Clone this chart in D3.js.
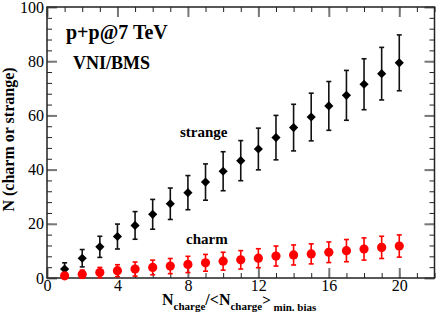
<!DOCTYPE html>
<html>
<head>
<meta charset="utf-8">
<script src="https://cdn.jsdelivr.net/npm/d3@7"></script>
<style>
  body { margin: 0; background: #fff; }
  svg { display: block; font-family: "Liberation Serif", "DejaVu Serif", serif; }
  .tick text { font-family: "Liberation Serif", serif !important; font-size: 16px; }
</style>
</head>
<body>
<div id="chart"></div>
<script>
// multiplicity bins
const nRatio = [1,2,3,4,5,6,7,8,9,10,11,12,13,14,15,16,17,18,19,20];
// strange yield + errors
const strange    = [3.3,7.3,11.5,15.3,19.4,23.5,27.4,31.5,35.4,39.4,43.3,47.6,51.8,55.5,59.4,63.5,67.4,71.5,75.4,79.4];
const strangeErr = [2.3,3.2,3.9,4.6,5.1,5.5,5.8,6.3,6.7,7.2,7.4,7.7,8.2,8.6,8.8,9.0,9.2,9.4,9.7,10.3];
// charm yield + errors
const charm    = [0.8,1.4,2.0,2.7,3.3,3.9,4.4,5.0,5.6,6.2,6.7,7.3,8.1,8.5,8.9,9.5,10.1,10.7,11.3,11.8];
const charmErr = [1.0,1.5,1.9,2.2,2.6,2.7,2.8,3.0,3.1,3.3,3.4,3.5,3.7,3.7,3.7,3.8,4.1,4.1,4.1,4.1];

const xTicks = [0,4,8,12,16,20];
const yTicks = [0,20,40,60,80,100];

const svgWidth = 436, svgHeight = 318;
const margin = { top: 7, right: 1.5, bottom: 40, left: 47 };
const width = svgWidth - margin.left - margin.right;
const height = svgHeight - margin.top - margin.bottom;

const svg = d3.select('#chart').append('svg')
  .attr('width', svgWidth)
  .attr('height', svgHeight)
  .append('g')
  .attr('transform', `translate(${margin.left},${margin.top})`);

const x = d3.scaleLinear().domain([0, 22]).range([0, width]);
const y = d3.scaleLinear().domain([0, 100]).range([height, 0]);

const minorX = d3.range(0, 23, 1);
const minorY = d3.range(0, 101, 4);

function styleAxis(g, major) {
  g.attr('font-family', null).attr('font-size', null);
  g.select('.domain').remove();
  g.selectAll('line').attr('stroke', major ? '#777' : '#222').attr('stroke-width', major ? 2 : 1);
  g.selectAll('text').attr('fill', '#000');
}

// minor ticks, all 4 sides
svg.append('g').attr('transform', `translate(0,${height})`)
  .call(d3.axisBottom(x).tickValues(minorX).tickSize(-5).tickFormat(''))
  .call(g => styleAxis(g, false));
svg.append('g')
  .call(d3.axisTop(x).tickValues(minorX).tickSize(-5).tickFormat(''))
  .call(g => styleAxis(g, false));
svg.append('g')
  .call(d3.axisLeft(y).tickValues(minorY).tickSize(-5).tickFormat(''))
  .call(g => styleAxis(g, false));
svg.append('g').attr('transform', `translate(${width},0)`)
  .call(d3.axisRight(y).tickValues(minorY).tickSize(-5).tickFormat(''))
  .call(g => styleAxis(g, false));

// major ticks
svg.append('g').attr('transform', `translate(0,${height})`)
  .call(d3.axisBottom(x).tickValues(xTicks).tickSize(-10).tickPadding(2))
  .call(g => styleAxis(g, true));
svg.append('g')
  .call(d3.axisTop(x).tickValues(xTicks).tickSize(-10).tickFormat(''))
  .call(g => styleAxis(g, true));
svg.append('g')
  .call(d3.axisLeft(y).tickValues(yTicks).tickSize(-10).tickPadding(3))
  .call(g => styleAxis(g, true));
svg.append('g').attr('transform', `translate(${width},0)`)
  .call(d3.axisRight(y).tickValues(yTicks).tickSize(-10).tickFormat(''))
  .call(g => styleAxis(g, true));

// frame
svg.append('rect')
  .attr('width', width).attr('height', height)
  .attr('fill', 'none').attr('stroke', '#222').attr('stroke-width', 1.5);

// error bars
function errBars(vals, errs, color, cls) {
  const g = svg.append('g').attr('class', cls).attr('stroke', color).attr('stroke-width', 1.6);
  g.selectAll('.bar').data(nRatio).enter().append('line')
    .attr('x1', d => x(d)).attr('x2', d => x(d))
    .attr('y1', (d, i) => y(vals[i] - errs[i]))
    .attr('y2', (d, i) => y(vals[i] + errs[i]));
  g.selectAll('.capT').data(nRatio).enter().append('line')
    .attr('x1', d => x(d) - 2.5).attr('x2', d => x(d) + 2.5)
    .attr('y1', (d, i) => y(vals[i] + errs[i]))
    .attr('y2', (d, i) => y(vals[i] + errs[i]));
  g.selectAll('.capB').data(nRatio).enter().append('line')
    .attr('x1', d => x(d) - 2.5).attr('x2', d => x(d) + 2.5)
    .attr('y1', (d, i) => y(vals[i] - errs[i]))
    .attr('y2', (d, i) => y(vals[i] - errs[i]));
}
errBars(strange, strangeErr, '#111', 'err-strange');
errBars(charm, charmErr, '#f00', 'err-charm');

// markers
svg.selectAll('.diamond').data(nRatio).enter().append('path')
  .attr('class', 'diamond')
  .attr('d', d3.symbol().type(d3.symbolSquare).size(42))
  .attr('transform', (d, i) => `translate(${x(d)},${y(strange[i])}) rotate(45)`)
  .attr('fill', '#000');

svg.selectAll('.dot').data(nRatio).enter().append('circle')
  .attr('class', 'dot')
  .attr('cx', d => x(d)).attr('cy', (d, i) => y(charm[i]))
  .attr('r', 4.6)
  .attr('fill', '#f00');

// labels
const bold = (sel, size) => sel.attr('font-weight', 'bold').style('font-size', size + 'px').attr('fill', '#000');

svg.append('text').attr('x', 19).attr('y', 32).text('p+p@7 TeV').call(bold, 20);
svg.append('text').attr('x', 26).attr('y', 62).text('VNI/BMS').call(bold, 18);
svg.append('text').attr('x', 133).attr('y', 130).text('strange').call(bold, 15);
svg.append('text').attr('x', 139).attr('y', 237).text('charm').call(bold, 15);

// y title
svg.append('text')
  .attr('transform', 'rotate(-90)')
  .attr('x', -height / 2 + 3)
  .attr('y', -margin.left + 14)
  .attr('text-anchor', 'middle')
  .text('N (charm or strange)').call(bold, 16);

// x title with subscripts
const xt = svg.append('text')
  .attr('x', 115).attr('y', height + 27)
  .call(bold, 16);
xt.append('tspan').text('N');
xt.append('tspan').attr('dy', 5).style('font-size', '11px').text('charge');
xt.append('tspan').attr('dy', -5).text('/<N');
xt.append('tspan').attr('dy', 5).style('font-size', '11px').text('charge');
xt.append('tspan').attr('dy', -5).style('font-size', '15px').text('>');
xt.append('tspan').attr('dy', 6).style('font-size', '11px').text(' min. bias');
</script>
</body>
</html>
